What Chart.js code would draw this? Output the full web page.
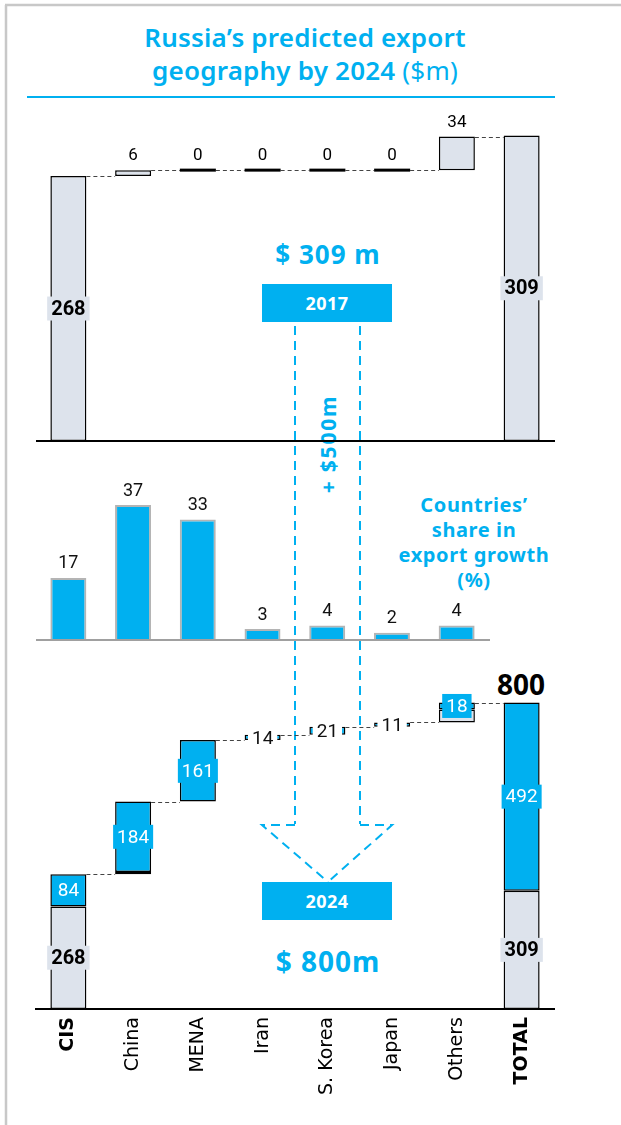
<!DOCTYPE html>
<html>
<head>
<meta charset="utf-8">
<script src="https://cdn.jsdelivr.net/npm/chart.js@4.4.1/dist/chart.umd.min.js"></script>
<style>
  body { margin: 0; width: 621px; height: 1125px; position: relative; background: #fff; overflow: hidden; font-family: "Noto Sans", sans-serif; }
  canvas { position: absolute; left: 0; }
  .txt { position: absolute; color: #00b0f0; text-align: center; white-space: nowrap; }
  .title { left: 0; width: 610px; top: 21px; font-size: 26px; font-weight: 600; line-height: 33px; letter-spacing: 0.2px; }
  .title span { font-weight: 400; }
  .big { font-size: 26px; font-weight: 700; width: 200px; letter-spacing: 1px; }
  .yearbox { position: absolute; left: 262px; width: 130px; height: 38px; background: #00b0f0; color: #fff; font-weight: 700; font-size: 18px; line-height: 38px; text-align: center; letter-spacing: 0.5px; }
  .share { left: 374px; width: 200px; top: 492px; font-size: 20px; font-weight: 700; line-height: 25px; letter-spacing: 0.6px; }
  .plus { left: 228px; top: 430px; width: 200px; font-size: 21px; font-weight: 700; letter-spacing: 1.8px; transform: rotate(-90deg); }
  .total { position: absolute; left: 461px; width: 120px; top: 665px; font-size: 28px; font-weight: 700; text-align: center; color: #000; }
</style>
</head>
<body>
<svg width="621" height="1125" style="position:absolute;left:0;top:0">
  <line x1="5" y1="5" x2="621" y2="5" stroke="#c8c8c8" stroke-width="2.5"/>
  <line x1="6" y1="5" x2="6" y2="1125" stroke="#c8c8c8" stroke-width="2.5"/>
  <line x1="27" y1="97" x2="555" y2="97" stroke="#00b0f0" stroke-width="2"/>
  <g stroke="#00b0f0" stroke-width="2" fill="none" stroke-dasharray="9 6">
    <line x1="295" y1="326" x2="295" y2="824"/>
    <line x1="360" y1="326" x2="360" y2="824"/>
    <polyline points="295,825 262,825 328,882"/>
    <polyline points="360,825 392,825 328,882"/>
  </g>
</svg>

<div class="txt title">Russia’s predicted export<br>geography by 2024 <span>($m)</span></div>
<div class="txt big" style="left:228px;top:236px">$ 309 m</div>
<div class="yearbox" style="top:284px">2017</div>
<div class="txt plus">+ $500m</div>
<div class="txt share">Countries’<br>share in<br>export growth<br>(%)</div>
<div class="yearbox" style="top:882px">2024</div>
<div class="txt big" style="left:228px;top:942px;font-size:28px">$ 800m</div>
<div class="total">800</div>

<canvas id="topChart" width="621" height="350" style="top:95px"></canvas>
<canvas id="shareChart" width="621" height="174" style="top:470px"></canvas>
<canvas id="bottomChart" width="621" height="455" style="top:670px"></canvas>

<script>
  // data ($m)
  const categories = ['CIS', 'China', 'MENA', 'Iran', 'S. Korea', 'Japan', 'Others', 'TOTAL'];
  const exports2017 = [268, 6, 0, 0, 0, 0, 34];
  const total2017 = 309;
  const growthTo2024 = [84, 184, 161, 14, 21, 11, 18];
  const totalGrowth = 492;
  const total2024 = 800;
  // share of each country in export growth (%)
  const growthShare = [17, 37, 33, 3, 4, 2, 4];

  const CYAN = '#00b0f0';
  const GREY = '#dde3ec';
  const NUM_FONT = 'Roboto, sans-serif';

  // top waterfall: 2017
  let run = 0;
  const topBars = exports2017.map((v) => { const b = [run, run + v]; run += v; return b; });
  topBars.push([0, total2017]);
  const topEnds = topBars.map((b) => b[1]);

  // bottom waterfall: 2017 part + growth part
  let base = 0;
  const lowerBars = [], upperBars = [];
  exports2017.forEach((v, i) => {
    lowerBars.push([base, base + v]);
    upperBars.push([base + v, base + v + growthTo2024[i]]);
    base += v + growthTo2024[i];
  });
  lowerBars.push([0, total2017]);
  upperBars.push([total2017, total2017 + totalGrowth]);
  const bottomEnds = upperBars.map((b) => b[1]);

  function boxLabel(ctx, text, x, y, font, color, bg, h) {
    ctx.font = font;
    const w = ctx.measureText(text).width + 8;
    if (bg) { ctx.fillStyle = bg; ctx.fillRect(x - w / 2, y - h / 2, w, h); }
    ctx.fillStyle = color;
    ctx.textAlign = 'center';
    ctx.textBaseline = 'middle';
    ctx.fillText(text, x, y + 1);
  }

  function connectors(chart, meta, ends) {
    const ctx = chart.ctx, y = chart.scales.y;
    ctx.save();
    ctx.setLineDash([4, 3]);
    ctx.strokeStyle = '#444';
    ctx.lineWidth = 1;
    for (let i = 0; i < meta.data.length - 1; i++) {
      const a = meta.data[i], b = meta.data[i + 1];
      const py = Math.round(y.getPixelForValue(ends[i])) + 0.5;
      ctx.beginPath();
      ctx.moveTo(a.x + a.width / 2, py);
      ctx.lineTo(b.x - b.width / 2, py);
      ctx.stroke();
    }
    ctx.restore();
  }

  function baseline(chart, color, width) {
    const ctx = chart.ctx, a = chart.chartArea;
    const py = chart.scales.y.getPixelForValue(0);
    ctx.save();
    ctx.strokeStyle = color;
    ctx.lineWidth = width;
    ctx.beginPath();
    ctx.moveTo(a.left, py);
    ctx.lineTo(a.right + 1, py);
    ctx.stroke();
    ctx.restore();
  }

  const zeroLen = (c) => c.raw && c.raw[1] === c.raw[0];

  Chart.defaults.animation = false;
  Chart.defaults.plugins.legend.display = false;
  Chart.defaults.plugins.tooltip.enabled = false;

  new Chart('topChart', {
    type: 'bar',
    data: {
      labels: categories,
      datasets: [{
        data: topBars,
        backgroundColor: GREY,
        borderColor: '#000',
        borderWidth: (c) => zeroLen(c) ? 0 : 1.5,
        borderSkipped: false,
        categoryPercentage: 1,
        barPercentage: 0.556
      }]
    },
    options: {
      responsive: false,
      layout: { padding: { left: 36, right: 67, top: 0, bottom: 4 } },
      scales: {
        x: { display: false },
        y: { display: false, min: 0, max: 350 }
      }
    },
    plugins: [{
      id: 'topDeco',
      afterDatasetsDraw(chart) {
        const ctx = chart.ctx, meta = chart.getDatasetMeta(0);
        connectors(chart, meta, topEnds);
        baseline(chart, '#000', 2);
        meta.data.forEach((el, i) => {
          const [a, b] = topBars[i];
          if (a === b) {
            ctx.save();
            ctx.fillStyle = '#000';
            ctx.fillRect(el.x - el.width / 2, el.y - 1.5, el.width, 3);
            ctx.restore();
          }
          if (i === 0 || i === topBars.length - 1) {
            const mid = chart.scales.y.getPixelForValue((a + b) / 2);
            boxLabel(ctx, String(b - a), el.x, mid, 'bold 20px ' + NUM_FONT, '#000', GREY, 24);
          } else {
            boxLabel(ctx, String(b - a), el.x, Math.min(el.y, el.base) - 15, '17px ' + NUM_FONT, '#000', null, 18);
          }
        });
      }
    }]
  });

  new Chart('shareChart', {
    type: 'bar',
    data: {
      labels: categories.slice(0, 7),
      datasets: [{
        data: growthShare,
        backgroundColor: CYAN,
        borderColor: '#b4b4b4',
        borderWidth: 2,
        categoryPercentage: 1,
        barPercentage: 0.556
      }]
    },
    options: {
      responsive: false,
      layout: { padding: { left: 36, right: 132, top: 0, bottom: 4 } },
      scales: {
        x: { display: false },
        y: { display: false, min: 0, max: 46.6 }
      }
    },
    plugins: [{
      id: 'shareDeco',
      afterDatasetsDraw(chart) {
        const ctx = chart.ctx, meta = chart.getDatasetMeta(0);
        baseline(chart, '#a0a0a0', 2);
        meta.data.forEach((el, i) => {
          boxLabel(ctx, String(growthShare[i]), el.x, el.y - 15, '18px ' + NUM_FONT, '#111', null, 18);
        });
      }
    }]
  });

  new Chart('bottomChart', {
    type: 'bar',
    data: {
      labels: categories,
      datasets: [{
        data: lowerBars,
        backgroundColor: GREY,
        borderColor: '#000',
        borderWidth: (c) => zeroLen(c) ? 0 : 1.5,
        borderSkipped: false,
        grouped: false,
        categoryPercentage: 1,
        barPercentage: 0.556
      }, {
        data: upperBars,
        backgroundColor: CYAN,
        borderColor: '#000',
        borderWidth: 1.5,
        borderSkipped: false,
        grouped: false,
        categoryPercentage: 1,
        barPercentage: 0.556
      }]
    },
    options: {
      responsive: false,
      layout: { padding: { left: 36, right: 67, top: 0, bottom: 0 } },
      scales: {
        x: {
          grid: { display: false },
          border: { display: true, color: '#000', width: 2 },
          afterFit: (axis) => { axis.height = 116; },
          ticks: {
            autoSkip: false,
            minRotation: 90,
            maxRotation: 90,
            padding: 0,
            color: '#000',
            font: (c) => ({
              family: '"DejaVu Sans", sans-serif',
              size: 19,
              weight: (c.index === 0 || c.index === categories.length - 1) ? 'bold' : 'normal'
            })
          }
        },
        y: { display: false, min: 0, max: 886 }
      }
    },
    plugins: [{
      id: 'bottomDeco',
      afterDatasetsDraw(chart) {
        const ctx = chart.ctx, y = chart.scales.y;
        const lower = chart.getDatasetMeta(0), upper = chart.getDatasetMeta(1);
        connectors(chart, upper, bottomEnds);
        const last = categories.length - 1;
        [0, last].forEach((i) => {
          const el = lower.data[i], [a, b] = lowerBars[i];
          boxLabel(ctx, String(b - a), el.x, y.getPixelForValue((a + b) / 2), 'bold 20px ' + NUM_FONT, '#000', GREY, 24);
        });
        upper.data.forEach((el, i) => {
          const [a, b] = upperBars[i];
          const v = i === last ? totalGrowth : growthTo2024[i];
          const mid = y.getPixelForValue((a + b) / 2);
          const plain = Math.abs(el.base - el.y) < 10 && exports2017[i] === 0;
          if (plain) {
            boxLabel(ctx, String(v), el.x, mid + 1, '19px ' + NUM_FONT, '#111', '#fff', 19);
          } else {
            boxLabel(ctx, String(v), el.x, mid, '19px ' + NUM_FONT, '#fff', CYAN, 24);
          }
        });
      }
    }]
  });
</script>
</body>
</html>
